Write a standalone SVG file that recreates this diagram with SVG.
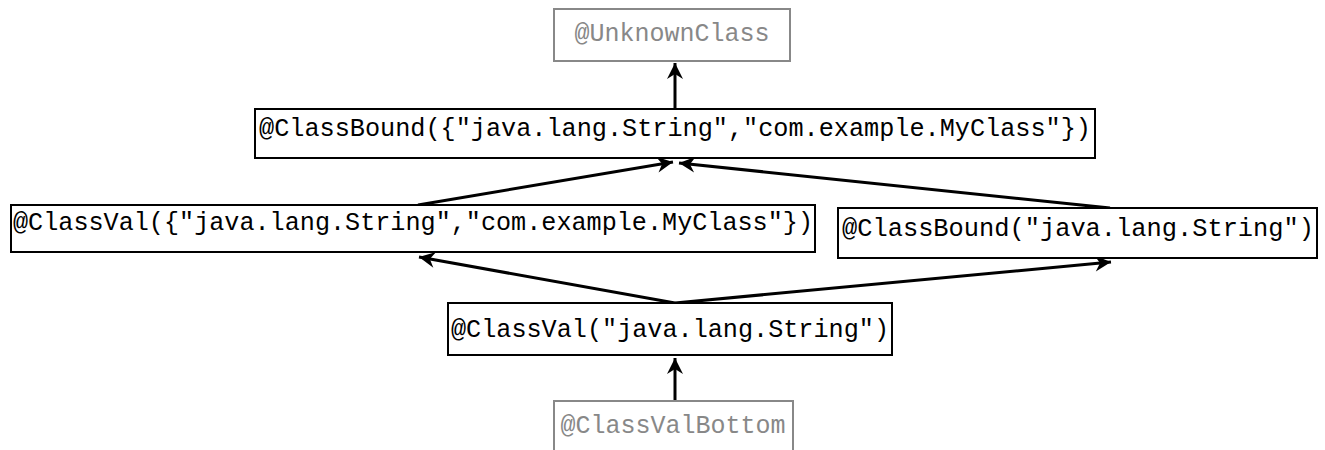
<svg xmlns="http://www.w3.org/2000/svg" width="1325" height="450" viewBox="0 0 1325 450">
<style>
  .box { fill: #ffffff; stroke: #000000; stroke-width: 2; }
  .gbox { fill: #ffffff; stroke: #888888; stroke-width: 2; }
  .t { font-family: "Liberation Mono", "DejaVu Sans Mono", monospace; font-size: 25px; fill: #000000; }
  .gt { font-family: "Liberation Mono", "DejaVu Sans Mono", monospace; font-size: 25px; fill: #888888; }
  .edge { fill: none; stroke: #000000; stroke-width: 3; }
</style>
<defs>
  <marker id="arrow" markerUnits="userSpaceOnUse" markerWidth="20" markerHeight="20" viewBox="-18 -9 20 18" refX="0" refY="0" orient="auto">
    <path d="M0,0 L-16,-8 L-11,0 L-16,8 Z" fill="#000000"/>
  </marker>
</defs>
<rect width="1325" height="450" fill="#ffffff"/>
<g id="connectors">
  <line class="edge" x1="675" y1="401" x2="675" y2="358" marker-end="url(#arrow)"/>
  <line class="edge" x1="675" y1="303" x2="419" y2="257" marker-end="url(#arrow)"/>
  <line class="edge" x1="675" y1="303" x2="1111" y2="262" marker-end="url(#arrow)"/>
  <line class="edge" x1="418" y1="205" x2="673" y2="162" marker-end="url(#arrow)"/>
  <line class="edge" x1="1110" y1="208" x2="679" y2="163" marker-end="url(#arrow)"/>
  <line class="edge" x1="675" y1="109" x2="675" y2="63" marker-end="url(#arrow)"/>
</g>
<g id="UnknownClass">
  <rect class="gbox" x="554" y="9" width="236" height="52"/>
  <text class="gt" x="672" y="41" text-anchor="middle">@UnknownClass</text>
</g>
<g id="ClassBoundMulti">
  <rect class="box" x="255" y="109" width="840" height="49"/>
  <text class="t" x="259" y="136" textLength="832" lengthAdjust="spacingAndGlyphs">@ClassBound({"java.lang.String","com.example.MyClass"})</text>
</g>
<g id="ClassValMulti">
  <rect class="box" x="11" y="205" width="804" height="47"/>
  <text class="t" x="13" y="230" textLength="800" lengthAdjust="spacingAndGlyphs">@ClassVal({"java.lang.String","com.example.MyClass"})</text>
</g>
<g id="ClassBoundString">
  <rect class="box" x="838" y="208" width="479" height="50"/>
  <text class="t" x="842" y="236" textLength="472" lengthAdjust="spacingAndGlyphs">@ClassBound("java.lang.String")</text>
</g>
<g id="ClassValString">
  <rect class="box" x="448" y="303" width="444" height="52"/>
  <text class="t" x="451" y="337" textLength="438" lengthAdjust="spacingAndGlyphs">@ClassVal("java.lang.String")</text>
</g>
<g id="ClassValBottom">
  <rect class="gbox" x="554" y="401" width="239" height="60"/>
  <text class="gt" x="673" y="433" text-anchor="middle">@ClassValBottom</text>
</g>
</svg>
